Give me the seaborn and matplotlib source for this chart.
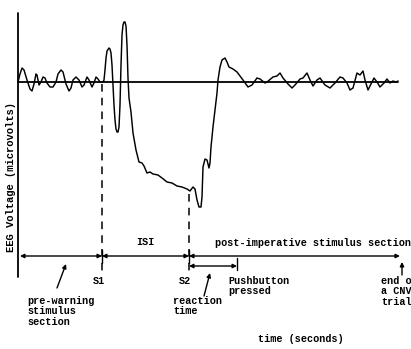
import matplotlib
matplotlib.use("Agg")
import matplotlib.pyplot as plt
import seaborn as sns
import pandas as pd

# ---- data (time units along the trial, voltage in arbitrary microvolt units) ----
time_pts = [0, 2, 4, 6, 9, 12, 14, 16, 18, 19, 21, 23, 25, 27, 29, 32, 35, 38, 40, 43, 45, 48,
            51, 53, 55, 58, 61, 64, 66, 69, 71, 74, 76, 78, 80, 82, 85,
            86, 87, 88, 89, 91, 92, 93, 94, 95, 96, 97, 98, 99, 100, 101, 102, 103, 104, 105,
            106, 107, 108, 109, 110, 111, 113, 115, 118, 121, 124, 126, 129, 132, 135, 140,
            144, 149, 154, 159, 164, 169, 172, 175, 177, 179, 181, 183, 184, 185, 187, 189,
            191, 192, 193, 195, 197, 199, 200, 202, 204, 207, 209, 211, 215, 219, 225, 230,
            234, 239, 242, 247, 249, 255, 259, 262, 265, 270, 274, 277, 282, 285, 289, 292,
            295, 299, 302, 307, 312, 317, 322, 325, 329, 332, 335, 339, 342, 345, 347, 350,
            354, 356, 359, 362, 366, 369, 372, 375, 378, 380]
voltage = [0, 8, 14, 12, 2, -7, -9, -2, 8, 7, -3, 0, 5, 4, -1, -5, -5, 0, 8, 12, 10, -2,
           -9, -6, 2, 5, 2, -5, -3, 5, 2, -5, -1, 5, 3, 0, 0,
           2, 12, 24, 31, 34, 33, 29, 17, -3, -23, -38, -47, -50, -50, -45, -23, 17, 47, 57,
           60, 60, 56, 37, 4, -16, -30, -51, -68, -80, -81, -84, -91, -90, -92, -93,
           -96, -100, -101, -104, -105, -107, -109, -105, -107, -118, -125, -125, -115, -85, -77, -78,
           -86, -81, -65, -45, -28, -11, 2, 15, 22, 24, 20, 15, 13, 10, 2, -5,
           -3, 4, 3, -1, 0, 5, 6, 9, 4, -2, -6, -3, 3, 4, 9, 2,
           -4, 2, 4, -3, -6, -1, 5, 4, -1, -8, -6, 9, 7, 11, 2, -8,
           0, 4, 0, -5, -1, 3, -1, 1, 0, 1]

event_names = ["start", "S1", "S2", "Pushbutton pressed", "end of trial"]
event_times = [2, 84, 171, 219, 382]

# ---- figure ----
sns.set_theme(style="white")
FONT = ["Liberation Mono", "DejaVu Sans Mono"]
plt.rcParams["font.family"] = FONT

fig = plt.figure(figsize=(4.11, 3.49), dpi=100)
ax = fig.add_axes([0, 0, 1, 1])
ax.set_xlim(-18, 393)
ax.set_ylim(-267, 82)
ax.axis("off")

df = pd.DataFrame({"time": time_pts, "voltage": voltage})
sns.lineplot(data=df, x="time", y="voltage", ax=ax, color="black", lw=1.05,
             sort=False, estimator=None)

t_start, t_s1, t_s2, t_press, t_end = event_times

# axes lines
ax.plot([0, 0], [69, -195], color="black", lw=1.3)
ax.plot([0, 380], [0, 0], color="black", lw=1.3)

# dashed stimulus markers
ax.plot([t_s1, t_s1], [-2, -190], color="black", lw=1.1, dashes=(5, 4))
ax.plot([t_s2, t_s2], [-112, -190], color="black", lw=1.1, dashes=(5, 4))

# time line with sections
ap = dict(arrowstyle="<|-|>", lw=1.0, color="black", mutation_scale=6,
          shrinkA=0, shrinkB=0)
yt = -174
for a, b in [(t_start, t_s1), (t_s1, t_s2), (t_s2, t_end)]:
    ax.annotate("", xy=(b, yt), xytext=(a, yt), arrowprops=ap)
for t in (t_s1, t_s2):
    ax.plot([t, t], [-168, -181], color="black", lw=1.0)

# reaction time bracket
yr = -184
ax.annotate("", xy=(t_press, yr), xytext=(t_s2, yr), arrowprops=ap)
ax.plot([t_press, t_press], [-176, -188], color="black", lw=1.0)

# pointer arrows
pa = dict(arrowstyle="-|>", lw=1.0, color="black", mutation_scale=6,
          shrinkA=0, shrinkB=0)
ax.annotate("", xy=(48, -182), xytext=(39, -206), arrowprops=pa)
ax.annotate("", xy=(192, -191), xytext=(186, -214), arrowprops=pa)
ax.annotate("", xy=(384, -180), xytext=(384, -193), arrowprops=pa)

fs = 7.3
kw = dict(fontsize=fs, color="black", family=FONT, linespacing=1.05,
          fontweight="bold")
ax.text(127, -160, "ISI", ha="center", va="center", **kw)
ax.text(81, -199, "S1", ha="center", va="center", **kw)
ax.text(167, -199, "S2", ha="center", va="center", **kw)
ax.text(9, -214, "pre-warning\nstimulus\nsection", ha="left", va="top", **kw)
ax.text(155, -214, "reaction\ntime", ha="left", va="top", **kw)
ax.text(197, -161, "post-imperative stimulus section", ha="left", va="center", **kw)
ax.text(210, -194, "Pushbutton\npressed", ha="left", va="top", **kw)
ax.text(363, -194, "end of\na CNV\ntrial", ha="left", va="top", **kw)
ax.text(283, -257, "time (seconds)", ha="center", va="center", **kw)
ax.text(-7, -95, "EEG Voltage (microvolts)", ha="center", va="center",
        rotation=90, fontsize=7.6, color="black", family=FONT, fontweight="bold")

fig.savefig("out.png", dpi=100)
